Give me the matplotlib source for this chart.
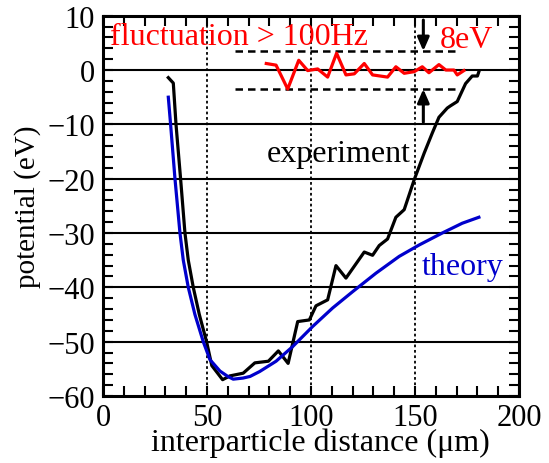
#!/usr/bin/env python3
"""
Interparticle potential: experiment vs theory, with fluctuation band
"""
import matplotlib
matplotlib.use('Agg')
import matplotlib.pyplot as plt
from matplotlib.ticker import MultipleLocator

plt.rcParams['font.family'] = ['Liberation Serif', 'DejaVu Serif']

# experiment (black)
exp_x = [31.4, 33.8, 35.1, 37.3, 39.4, 41.0, 43.4, 46.3, 49.8, 52.3, 57.5, 61.0, 67.4,
         73.0, 79.5, 84.3, 89.0, 93.6, 99.2, 102.4, 108.0, 112.0, 116.8, 125.6, 129.6,
         132.8, 136.8, 140.8, 144.8, 149.6, 154.4, 158.3, 161.5, 165.5, 167.0, 170.3,
         174.3, 177.5, 180.0, 180.7]
exp_y = [-1.4, -2.4, -10.0, -20.0, -30.0, -35.0, -40.0, -45.0, -50.0, -54.4, -57.0, -56.3,
         -55.8, -53.9, -53.6, -51.7, -54.0, -46.3, -46.0, -43.4, -42.3, -36.0, -38.3,
         -33.5, -34.1, -32.3, -31.1, -27.1, -25.7, -20.2, -15.3, -11.6, -8.7, -7.0, -6.6,
         -5.8, -2.5, -1.1, -1.1, -0.3]

# theory (blue)
th_x = [31.4, 32.5, 34.6, 37.0, 38.6, 41.0, 44.2, 48.2, 51.4, 56.2, 60.0, 62.6, 67.3,
        70.7, 75.3, 83.2, 91.2, 100.8, 110.4, 120.0, 131.2, 142.4, 152.0, 163.1, 172.7,
        180.7]
th_y = [-5.0, -10.0, -20.0, -30.0, -35.0, -40.0, -45.0, -50.0, -53.3, -55.4, -56.4,
        -56.9, -56.7, -56.4, -55.5, -53.6, -50.9, -47.2, -43.8, -40.8, -37.4, -34.3,
        -32.2, -30.0, -28.2, -27.1]

# fluctuation > 100Hz (red)
fl_x = [78.5, 83.2, 88.8, 94.1, 98.4, 103.2, 108.0, 112.3, 116.8, 120.8, 125.6, 129.6,
        136.8, 140.8, 144.8, 149.6, 153.5, 156.7, 161.5, 164.8, 168.7, 170.3, 173.5]
fl_y = [1.2, 0.9, -3.5, 1.8, -0.1, 0.2, -1.3, 3.1, -0.9, -0.7, 1.2, -0.9, -1.3, 0.6,
        -0.6, -0.3, 0.6, -0.5, 1.0, 0.0, 0.0, -0.9, -0.1]

band = 3.5
band_x = [63.3, 169.5]
arrow_x = 154.0

fig = plt.figure(figsize=(5.49, 4.64), dpi=100)
ax = fig.add_axes([0.1876, 0.1444, 0.7578, 0.8196])

for y in range(-50, 10, 10):
    ax.axhline(y, color='black', lw=1.5, zorder=1)
for x in (50, 100, 150):
    ax.axvline(x, color='black', lw=1.3, ls=(0, (1.5, 1.5)), zorder=1)

ax.plot(exp_x, exp_y, color='black', lw=2.3, zorder=2)
ax.plot(th_x, th_y, color='#0000cc', lw=2.3, zorder=3)
ax.plot(fl_x, fl_y, color='red', lw=2.3, zorder=3)

for y in (band, -band):
    ax.plot(band_x, [y, y], color='black', lw=1.8, ls=(0, (3, 2)), zorder=2)

arrow = dict(arrowstyle='-|>,head_length=0.8,head_width=0.35', color='black', lw=2.2,
             shrinkA=0, shrinkB=0)
ax.annotate('', xy=(arrow_x, band), xytext=(arrow_x, 9.2), arrowprops=arrow)
ax.annotate('', xy=(arrow_x, -band), xytext=(arrow_x, -9.6), arrowprops=arrow)

fs = 23
ax.text(3.4, 4.7, 'fluctuation > 100Hz', color='red', fontsize=fs, va='baseline')
ax.text(162, 4.2, '8eV', color='red', fontsize=fs, va='baseline')
ax.text(78.7, -16.8, 'experiment', color='black', fontsize=fs, va='baseline')
ax.text(153.2, -37.6, 'theory', color='#0000cc', fontsize=fs, va='baseline')

ax.set_xlim(0, 200)
ax.set_ylim(-60, 10)
ax.xaxis.set_major_locator(MultipleLocator(50))
ax.xaxis.set_minor_locator(MultipleLocator(10))
ax.yaxis.set_major_locator(MultipleLocator(10))
ax.yaxis.set_minor_locator(MultipleLocator(2))
ax.tick_params(which='both', direction='in', top=True, right=True, width=1.5,
               length=7, labelsize=22)
ax.tick_params(axis='x', pad=5)
ax.tick_params(axis='y', pad=6)
for s in ax.spines.values():
    s.set_linewidth(2.2)

ax.set_xlabel('interparticle distance (\u03bcm)', fontsize=fs)
ax.xaxis.set_label_coords(0.522, -0.082, transform=ax.transAxes)
ax.xaxis.label.set_va('top')
ax.set_ylabel('potential (eV)', fontsize=21, labelpad=4)

fig.savefig('out.png', dpi=100)
plt.close(fig)
